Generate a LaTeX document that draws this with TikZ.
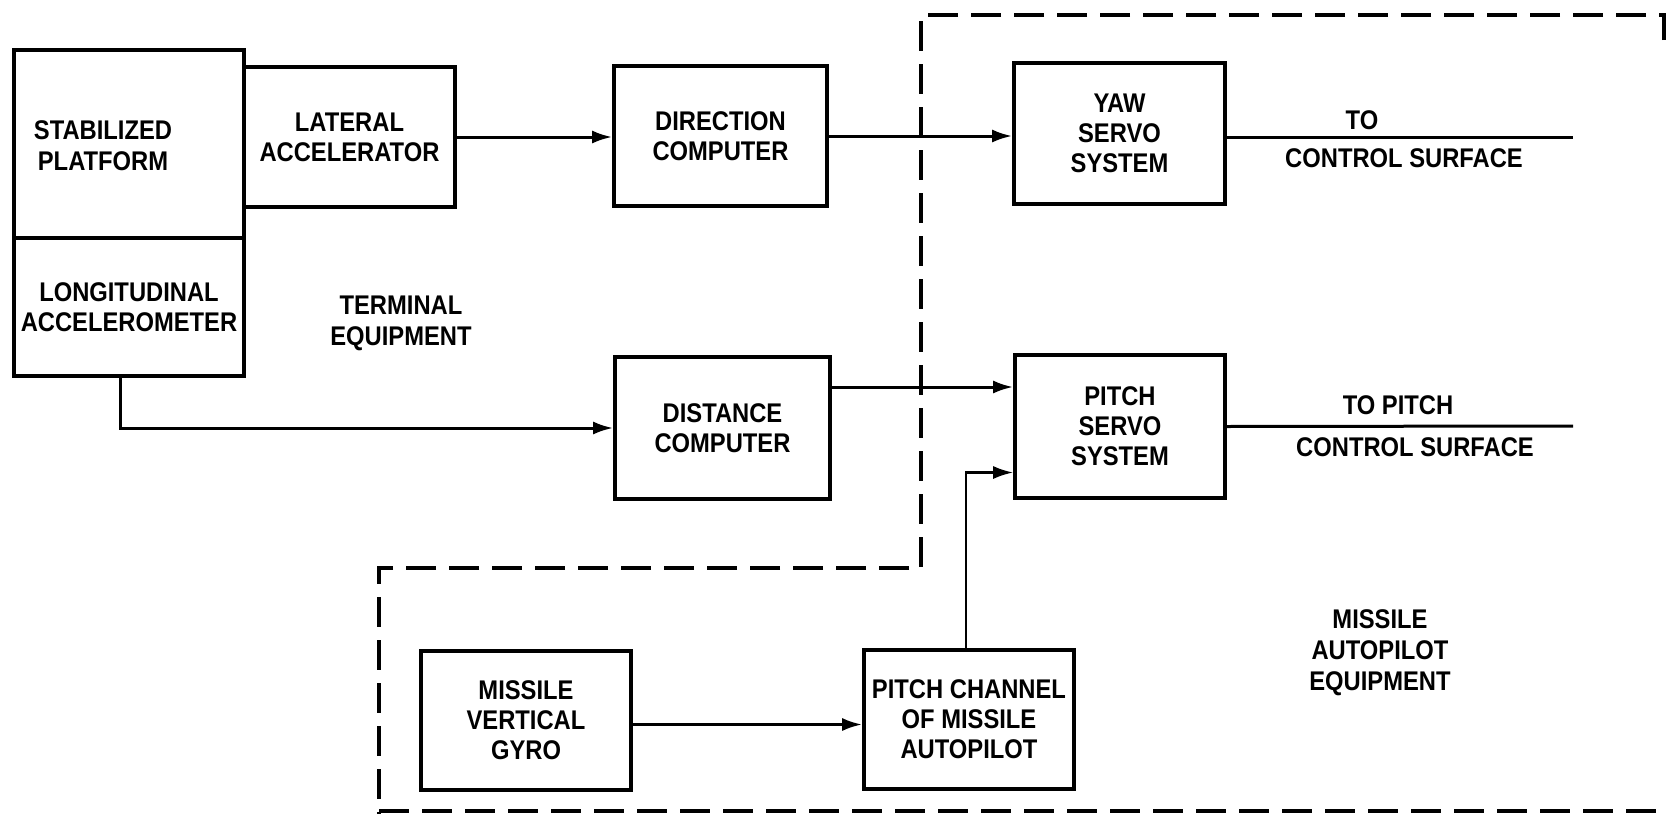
\documentclass[tikz,border=0pt]{standalone}
\usepackage{fontspec}
\setmainfont{Liberation Sans}[FakeStretch=0.88]
\usetikzlibrary{arrows.meta}
\tikzset{
  lbl/.style={font=\fontsize{27}{31}\selectfont\bfseries, align=center, inner sep=0pt},
  blk/.style={draw, line width=3.6pt, inner sep=0pt, font=\fontsize{27}{30}\selectfont\bfseries, align=center},
  arr/.style={line width=3pt, -{Latex[length=20pt,width=13pt]}},
  thinarr/.style={line width=2.4pt, -{Latex[length=20pt,width=13pt]}},
  plain/.style={line width=3pt},
  border/.style={line width=4.5pt, dash pattern=on 30pt off 13pt},
}
\begin{document}
\begin{tikzpicture}[x=1pt,y=-1pt]
\useasboundingbox (0,0) rectangle (1666,814);
\clip (0,0) rectangle (1666,814);
% dashed boundary of missile autopilot equipment
\draw[border] (1664,40) -- (1664,15) -- (921,15) -- (921,568) -- (379,568) -- (379,814);
\draw[border] (379,811) -- (1666,811);
% blocks
\node[blk, minimum width=230pt, minimum height=188pt] (stab) at (129,144) {};
\node[lbl] (stabt) at (103,146) {STABILIZED\\PLATFORM};
\node[blk, minimum width=230pt, minimum height=138pt] (long) at (129,307) {LONGITUDINAL\\ACCELEROMETER};
\node[blk, minimum width=211pt, minimum height=140pt] (lat) at (349.5,137) {LATERAL\\ACCELERATOR};
\node[blk, minimum width=213pt, minimum height=140pt] (dir) at (720.5,136) {DIRECTION\\COMPUTER};
\node[blk, minimum width=211pt, minimum height=141pt] (yaw) at (1119.5,133.5) {YAW\\SERVO\\SYSTEM};
\node[blk, minimum width=215pt, minimum height=142pt] (dist) at (722.5,428) {DISTANCE\\COMPUTER};
\node[blk, minimum width=210pt, minimum height=143pt] (pser) at (1120,426.5) {PITCH\\SERVO\\SYSTEM};
\node[blk, minimum width=210pt, minimum height=139pt] (gyro) at (526,720.5) {MISSILE\\VERTICAL\\GYRO};
\node[blk, minimum width=210pt, minimum height=139pt] (pch) at (969,719.5) {PITCH CHANNEL\\OF MISSILE\\AUTOPILOT};
% free labels
\node[lbl] (term) at (401,323) {TERMINAL\\EQUIPMENT};
\node[lbl] (mae) at (1380,653) {MISSILE\\AUTOPILOT\\EQUIPMENT};
\node[lbl] (to1) at (1362,120) {TO};
\node[lbl] (cs1) at (1404,158) {CONTROL SURFACE};
\node[lbl] (to2) at (1398,405) {TO PITCH};
\node[lbl] (cs2) at (1415,447) {CONTROL SURFACE};
% output ends
\coordinate (yawout) at (1573,137);
\coordinate (pout) at (1573,426);
% connectors
\draw[arr] (lat.east) -- (lat.east -| dir.west);
\draw[arr] (dir.east) -- (dir.east -| yaw.west);
\draw[arr] ([xshift=-9pt]long.south) |- (dist.west);
\draw[arr] ([yshift=41pt]dist.east) -- ([yshift=41pt]dist.east -| pser.west);
\draw[thinarr] ([xshift=-3pt]pch.north) |- ([yshift=-46pt]pser.west);
\draw[arr] ([yshift=-4pt]gyro.east) -- ([yshift=-4pt]gyro.east -| pch.west);
\draw[plain] (yawout -| yaw.east) -- (yawout);
\draw[plain] (pser.east) -- (pout);
\end{tikzpicture}
\end{document}
